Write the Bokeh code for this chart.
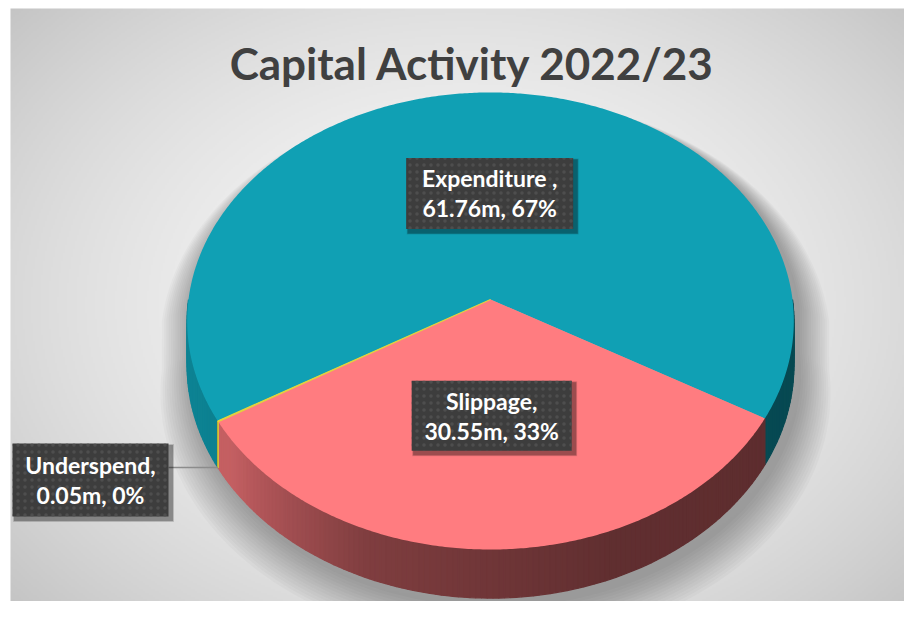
import numpy as np
from bokeh.plotting import figure
from bokeh.models import Range1d
from bokeh.core.properties import value
from bokeh.embed import file_html
from bokeh.resources import INLINE

# ---------------- data ----------------
TITLE = "Capital Activity 2022/23"
categories = ["Expenditure ", "Slippage", "Underspend"]
values_m = [61.76, 30.55, 0.05]
slice_colors = ["#10A0B4", "#FF7C80", "#E2D23E"]

# ---------------- styling / geometry constants ----------------
W, H = 904, 601
AREA_X0, AREA_Y0 = 10, 8            # chart area starts here (white margin before)
CX, CY = 490.0, 299.0               # pie centre
RX, RY = 302.0, 226.5               # radii of the top face
K = 0.094                           # perspective strength
DEPTH = 44.0                        # thickness of the pie
FIRST_SLICE_ANGLE = 239.3           # degrees clockwise from 12 o'clock
LABEL_R = 0.49
SIDE_KEEP = [0.85, 1.0, 1.0]        # how strongly each side wall darkens

total = sum(values_m)
fracs = [v / total for v in values_m]


def proj(theta_deg, depth=0.0):
    t = np.radians(theta_deg)
    u = np.cos(t)
    v = -np.sin(t)
    s = 1.0 / (1.0 - K * v)
    return CX + RX * u * s, CY + RY * v * s + DEPTH * depth * s


def hex_to_rgb(h):
    h = h.lstrip("#")
    return np.array([int(h[i:i + 2], 16) for i in (0, 2, 4)], dtype=float)


def shade(hexcol, f):
    r, g, b = np.clip(hex_to_rgb(hexcol) * f, 0, 255).astype(int)
    return "#%02x%02x%02x" % (r, g, b)


p = figure(width=W, height=H, output_backend="svg", toolbar_location=None,
           x_range=Range1d(0, W), y_range=Range1d(H, 0), min_border=0)
p.axis.visible = False
p.grid.visible = False
p.outline_line_color = None
p.background_fill_color = "white"
p.border_fill_color = "white"

# ---------------- background radial gradient ----------------
gw, gh = (W - AREA_X0) // 2, (H - AREA_Y0) // 2
gx = np.linspace(AREA_X0, W, gw)
gy = np.linspace(AREA_Y0, H, gh)
GX, GY = np.meshgrid(gx, gy)
mid_y = (AREA_Y0 + H) / 2
d = np.sqrt(((GX - 465) / 560.0) ** 2 + ((GY - mid_y) / 420.0) ** 2)
gray = np.clip(247 - 44 * d ** 1.8, 0, 255).astype(np.uint32)
img = np.empty((gh, gw), dtype=np.uint32)
view = img.view(dtype=np.uint8).reshape((gh, gw, 4))
view[:, :, 0] = gray
view[:, :, 1] = gray
view[:, :, 2] = gray
view[:, :, 3] = 255
p.image_rgba(image=[img], x=AREA_X0, y=AREA_Y0, dw=W - AREA_X0, dh=H - AREA_Y0)

# ---------------- slice angles ----------------
starts, ends = [], []
a = 90.0 - FIRST_SLICE_ANGLE
for f in fracs:
    starts.append(a)
    ends.append(a - f * 360.0)
    a -= f * 360.0

# ---------------- soft shadow (mostly to the sides and below) ----------------
ang_top = np.linspace(0, 180, 91)
ang_bot = np.linspace(180, 360, 91)
sx_t, sy_t = proj(ang_top, 0)
sx_b, sy_b = proj(ang_bot, 1)
sil_x = np.concatenate([sx_t, sx_b])
sil_y = np.concatenate([sy_t, sy_b])
anchor_y = CY - 190
for i in range(14):
    sc_x = 1.0 + 0.0075 * (14 - i)
    sc_y = 1.0 + 0.006 * (14 - i)
    p.patch(CX + 5 + (sil_x - CX) * sc_x, anchor_y + 6 + (sil_y - anchor_y) * sc_y,
            fill_color="black", fill_alpha=0.022, line_alpha=0)

# ---------------- side walls ----------------
wall_xs, wall_ys, wall_cols = [], [], []
for i in range(len(values_m)):
    a_hi, a_lo = starts[i], ends[i]
    for k in range(-3, 2):
        lo, hi = -180.0 + 360 * k, 360.0 * k
        s_lo, s_hi = max(a_lo, lo), min(a_hi, hi)
        if s_hi <= s_lo:
            continue
        n = max(1, int(np.ceil(s_hi - s_lo)))
        edges = np.linspace(s_lo, s_hi, n + 1)
        for j in range(n):
            e0, e1 = edges[j], edges[j + 1]
            tmid = ((e0 + e1) / 2 - lo) / 180.0
            f = np.interp(tmid, [0, 0.2, 0.38, 0.62, 1.0],
                          [0.80, 0.77, 0.50, 0.38, 0.36])
            f = 1 - (1 - f) * SIDE_KEEP[i]
            x_a, y_a = proj(e0, 0)
            x_b, y_b = proj(e1, 0)
            x_c, y_c = proj(e1, 1)
            x_d, y_d = proj(e0, 1)
            wall_xs.append([x_a, x_b, x_c, x_d])
            wall_ys.append([y_a, y_b, y_c, y_d])
            wall_cols.append(shade(slice_colors[i], f))
p.patches(wall_xs, wall_ys, fill_color=wall_cols, line_color=wall_cols, line_width=1.3)

# ---------------- top faces ----------------
for i in range(len(values_m)):
    n = max(2, int(abs(starts[i] - ends[i]) * 2))
    angs = np.linspace(starts[i], ends[i], n)
    ex, ey = proj(angs, 0)
    xs = np.concatenate([[CX], ex])
    ys = np.concatenate([[CY], ey])
    if i == 2:
        p.patch(xs, ys, fill_color=slice_colors[i], line_color=slice_colors[i], line_width=1.2)
        bx0, by0 = proj(starts[i], 0)
        bx1, by1 = proj(starts[i], 1)
        p.line([bx0, bx1], [by0, by1], line_color=slice_colors[i], line_width=1)
    else:
        p.patch(xs, ys, fill_color=slice_colors[i], line_alpha=0)

# ---------------- data labels ----------------
FONT = value("Lato")


def draw_box(cx, cy, w, h, lines):
    for (o, al) in [(5, 0.10), (4, 0.14), (3, 0.2)]:
        p.rect(x=cx + 3, y=cy + 3, width=w + o, height=h + o,
               fill_color="black", fill_alpha=al, line_alpha=0)
    p.rect(x=cx, y=cy, width=w, height=h, fill_color="#3d3d3d", line_alpha=0,
           hatch_pattern="dot", hatch_color="#4e4e4e", hatch_scale=7, hatch_weight=1.5)
    p.text(x=[cx, cx], y=[cy - 15, cy + 15], text=lines,
           text_font=FONT, text_font_style="bold", text_font_size="23px",
           text_color="white", text_align="center", text_baseline="middle")


BOX_W = [167, 160, 156]
BOX_H = [71, 70, 73]
for i in range(2):
    mid = (starts[i] + ends[i]) / 2
    t = np.radians(mid)
    u, v = np.cos(t) * LABEL_R, -np.sin(t) * LABEL_R
    s = 1.0 / (1.0 - K * v)
    lx, ly = CX + RX * u * s, CY + RY * v * s
    pct = round(100 * fracs[i])
    draw_box(lx, ly, BOX_W[i], BOX_H[i],
             [f"{categories[i]},", f"{values_m[i]:.2f}m, {pct}%"])

# Underspend: outside label with leader line
UNDER_LABEL = (90.0, 479.5)
mid = (starts[2] + ends[2]) / 2
ax_, ay_ = proj(mid, 1)
p.line([UNDER_LABEL[0] + BOX_W[2] / 2, ax_], [ay_, ay_], line_color="#8c8c8c", line_width=1.5)
pct = round(100 * fracs[2])
draw_box(UNDER_LABEL[0], UNDER_LABEL[1], BOX_W[2], BOX_H[2],
         [f"{categories[2]},", f"{values_m[2]:.2f}m, {pct}%"])

# ---------------- title ----------------
p.text(x=[472], y=[62], text=[TITLE], text_font=FONT, text_font_style="bold",
       text_font_size="44px", text_color="#404040", text_align="center",
       text_baseline="alphabetic")

open("out.html", "w").write(file_html(p, INLINE))
